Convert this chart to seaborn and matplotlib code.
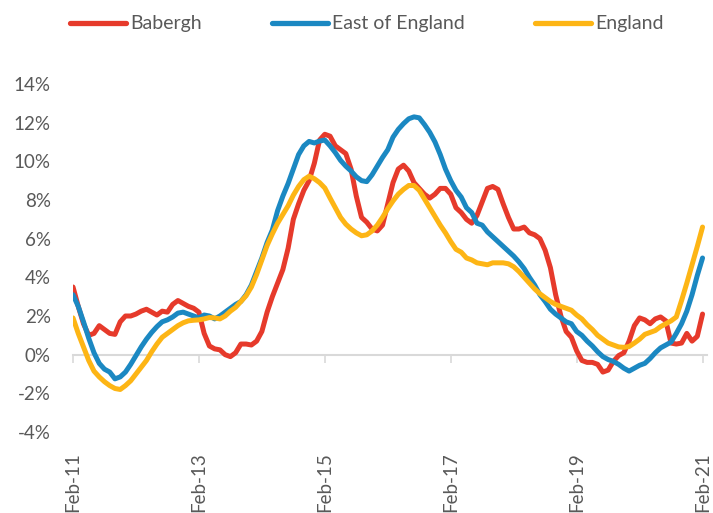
import matplotlib
matplotlib.use("Agg")
import matplotlib.pyplot as plt
import seaborn as sns
import pandas as pd
import numpy as np
from matplotlib.lines import Line2D

# Monthly values, Feb-2011 .. Feb-2021 (121 points), annual % change
babergh = [
    3.5, 2.5, 1.6, 1.0, 1.1, 1.5, 1.3, 1.1, 1.05, 1.7,
    2.0, 2.0, 2.1, 2.25, 2.35, 2.2, 2.05, 2.25, 2.2, 2.6,
    2.8, 2.65, 2.5, 2.4, 2.2, 1.1, 0.45, 0.3, 0.25, 0.0,
    -0.1, 0.1, 0.55, 0.55, 0.5, 0.7, 1.2, 2.2, 3.0, 3.7,
    4.4, 5.5, 7.0, 7.8, 8.5, 9.0, 9.9, 11.1, 11.4, 11.3,
    10.8, 10.6, 10.4, 9.6, 8.2, 7.1, 6.85, 6.5, 6.4, 6.7,
    7.8, 8.9, 9.6, 9.8, 9.5, 8.9, 8.6, 8.3, 8.1, 8.3,
    8.6, 8.6, 8.3, 7.6, 7.35, 7.0, 6.8, 7.2, 7.9, 8.6,
    8.7, 8.55, 7.8, 7.1, 6.5, 6.5, 6.6, 6.3, 6.2, 6.0,
    5.4, 4.5, 3.1, 2.0, 1.2, 0.9, 0.2, -0.3, -0.4, -0.4,
    -0.5, -0.9, -0.8, -0.35, -0.05, 0.1, 0.7, 1.5, 1.9, 1.8,
    1.6, 1.85, 1.95, 1.75, 0.6, 0.55, 0.6, 1.1, 0.7, 0.95,
    2.1,
]
east_of_england = [
    3.1, 2.5, 1.7, 0.85, 0.1, -0.45, -0.75, -0.9, -1.25, -1.15,
    -0.9, -0.5, -0.05, 0.4, 0.8, 1.15, 1.45, 1.7, 1.8, 1.95,
    2.15, 2.2, 2.1, 2.0, 1.9, 2.05, 2.0, 1.85, 2.0, 2.2,
    2.4, 2.6, 2.75, 3.1, 3.6, 4.3, 5.0, 5.8, 6.45, 7.45,
    8.2, 8.85, 9.6, 10.35, 10.8, 11.03, 10.95, 11.05, 11.1, 10.8,
    10.45, 10.05, 9.75, 9.5, 9.2, 9.0, 8.95, 9.3, 9.75, 10.2,
    10.6, 11.25, 11.65, 11.95, 12.2, 12.3, 12.25, 11.9, 11.5, 11.0,
    10.35, 9.6, 9.0, 8.5, 8.15, 7.6, 7.35, 6.8, 6.7, 6.35,
    6.1, 5.85, 5.6, 5.35, 5.1, 4.8, 4.45, 4.0, 3.6, 3.1,
    2.75, 2.35, 2.1, 1.9, 1.7, 1.6, 1.2, 1.0, 0.7, 0.45,
    0.15, -0.1, -0.25, -0.35, -0.5, -0.7, -0.85, -0.7, -0.55, -0.45,
    -0.2, 0.1, 0.35, 0.5, 0.65, 1.1, 1.6, 2.25, 3.1, 4.1,
    5.0,
]
england = [
    1.9, 1.1, 0.4, -0.3, -0.85, -1.15, -1.4, -1.6, -1.75, -1.8,
    -1.6, -1.35, -1.0, -0.65, -0.3, 0.15, 0.55, 0.9, 1.1, 1.3,
    1.5, 1.65, 1.75, 1.78, 1.8, 1.85, 1.92, 1.9, 1.85, 2.0,
    2.25, 2.45, 2.75, 3.05, 3.5, 4.15, 4.9, 5.65, 6.25, 6.8,
    7.25, 7.7, 8.25, 8.7, 9.05, 9.23, 9.1, 8.9, 8.62, 8.1,
    7.6, 7.1, 6.75, 6.5, 6.3, 6.15, 6.2, 6.4, 6.7, 7.1,
    7.55, 7.95, 8.3, 8.55, 8.75, 8.75, 8.5, 8.05, 7.6, 7.15,
    6.7, 6.3, 5.85, 5.45, 5.3, 5.0, 4.9, 4.75, 4.7, 4.65,
    4.75, 4.75, 4.75, 4.7, 4.55, 4.3, 4.0, 3.7, 3.4, 3.15,
    2.95, 2.75, 2.6, 2.5, 2.4, 2.3, 2.05, 1.85, 1.55, 1.3,
    1.0, 0.8, 0.6, 0.5, 0.4, 0.38, 0.42, 0.6, 0.8, 1.05,
    1.15, 1.25, 1.45, 1.6, 1.75, 1.95, 2.8, 3.7, 4.65, 5.6,
    6.6,
]
series_names = ["Babergh", "East of England", "England"]
series_colors = ["#E63A2B", "#1B88C2", "#FDB515"]
tick_labels = ["Feb-11", "Feb-13", "Feb-15", "Feb-17", "Feb-19", "Feb-21"]
y_ticks = [-4, -2, 0, 2, 4, 6, 8, 10, 12, 14]

months = np.arange(len(babergh))
df = pd.concat([
    pd.DataFrame({"month": months, "value": vals, "series": name})
    for name, vals in zip(series_names, [babergh, east_of_england, england])
])

sns.set_theme(style="white")
plt.rcParams["font.family"] = ["Lato", "DejaVu Sans"]

fig = plt.figure(figsize=(7.13, 5.13), dpi=100)
ax = fig.add_axes([73 / 713, 1 - 432 / 513, (707 - 73) / 713, (432 - 84) / 513])

sns.lineplot(data=df, x="month", y="value", hue="series",
             palette=dict(zip(series_names, series_colors)),
             linewidth=3.6, ax=ax, legend=False)
for ln in ax.get_lines():
    ln.set_solid_capstyle("round")
    ln.set_solid_joinstyle("round")

ax.set_xlim(0, 120.85)
ax.set_ylim(-4, 14)
ax.set_xlabel("")
ax.set_ylabel("")

gray = "#595959"
ax.set_yticks(y_ticks)
ax.set_yticklabels([f"{v}%" for v in y_ticks])
ax.tick_params(axis="y", length=0, pad=16, labelsize=13.5, labelcolor=gray)

ax.set_xticks(np.arange(0, 121, 24))
ax.set_xticklabels(tick_labels)
ax.tick_params(axis="x", direction="out", length=6, width=1.2, color="#D9D9D9",
               pad=64, bottom=True, labelrotation=90, labelsize=13.5,
               labelcolor=gray)
for t in ax.get_xticklabels():
    t.set_family(["Liberation Sans", "DejaVu Sans"])
    t.set_va("top")
    t.set_ha("center")

for s in ["left", "right", "top"]:
    ax.spines[s].set_visible(False)
ax.spines["bottom"].set_position(("data", 0))
ax.spines["bottom"].set_color("#D9D9D9")
ax.spines["bottom"].set_linewidth(1.5)
ax.spines["bottom"].set_zorder(0)

handles = [Line2D([0], [0], color=c, linewidth=3.8, solid_capstyle="round")
           for c in series_colors]
fig.legend(handles, series_names, loc="center left",
           bbox_to_anchor=(70 / 713, 1 - 24 / 513), ncol=3, frameon=False,
           fontsize=14, handlelength=2.9, handletextpad=0.2,
           columnspacing=3.6, labelcolor=gray, borderpad=0, borderaxespad=0)

fig.savefig("out.png", dpi=100)
